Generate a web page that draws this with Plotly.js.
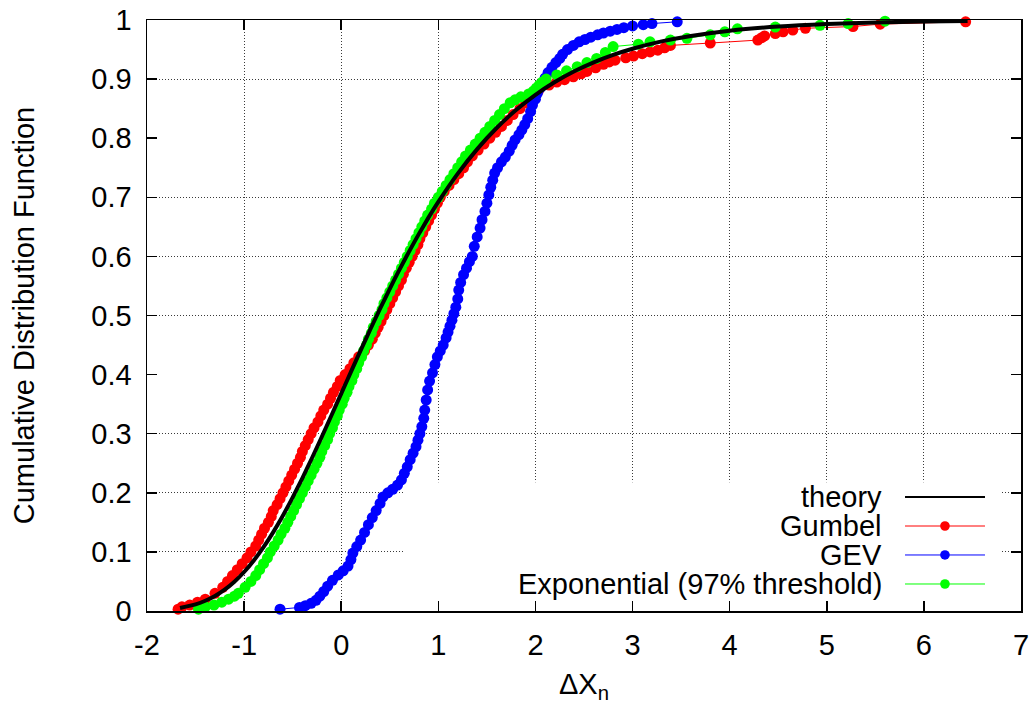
<!DOCTYPE html>
<html>
<head>
<meta charset="utf-8">
<script src="https://cdn.plot.ly/plotly-3.0.1.min.js"></script>
<style>
  html, body { margin: 0; padding: 0; background: #fff; }
  #chart { width: 1035px; height: 704px; }
</style>
</head>
<body>
<div id="chart"></div>
<script>
// ---------------- data ----------------
const seriesNames = ["theory", "Gumbel", "GEV", "Exponential (97% threshold)"];

const theoryX = [-1.66,-1.5,-1.4,-1.3,-1.2,-1.1,-1.0,-0.9,-0.8,-0.7,-0.6,-0.5,-0.4,-0.3,-0.2,-0.1,0,0.1,0.2,0.3,0.4,0.5,0.6,0.7,0.8,0.9,1.0,1.2,1.4,1.6,1.8,2.0,2.2,2.4,2.6,2.8,3.0,3.3,3.6,4.0,4.5,5.0,5.5,6.0,6.45];
const theoryY = [0.0052,0.0113,0.0173,0.0255,0.0361,0.0496,0.0660,0.0855,0.1080,0.1335,0.1617,0.1923,0.2249,0.2593,0.2948,0.3312,0.3679,0.4046,0.4410,0.4767,0.5115,0.5452,0.5777,0.6086,0.6381,0.6660,0.6922,0.7400,0.7815,0.8172,0.8476,0.8734,0.8951,0.9133,0.9284,0.9410,0.9514,0.9638,0.9730,0.9819,0.9890,0.9933,0.9959,0.9975,0.9984];

const gumbelX = [-1.68,-1.64,-1.56,-1.48,-1.40,-1.30,-1.22,-1.17,-1.12,-1.07,-1.02,-0.97,-0.93,-0.88,-0.85,-0.82,-0.79,-0.75,-0.72,-0.70,-0.66,-0.63,-0.60,-0.57,-0.54,-0.51,-0.48,-0.45,-0.42,-0.40,-0.37,-0.34,-0.31,-0.28,-0.24,-0.21,-0.18,-0.14,-0.11,-0.08,-0.04,-0.01,0.04,0.09,0.13,0.18,0.24,0.28,0.32,0.35,0.38,0.41,0.44,0.47,0.50,0.53,0.56,0.59,0.62,0.64,0.67,0.70,0.73,0.76,0.79,0.81,0.84,0.87,0.90,0.93,0.96,0.99,1.02,1.06,1.11,1.16,1.21,1.26,1.30,1.35,1.41,1.47,1.53,1.59,1.65,1.71,1.77,1.84,1.90,1.96,2.03,2.14,2.22,2.30,2.39,2.47,2.53,2.62,2.70,2.76,2.82,2.93,3.01,3.10,3.18,3.26,3.33,3.39,3.80,4.29,4.33,4.36,4.47,4.55,4.65,4.78,5.27,5.55,6.43];
const gumbelY = [0.003,0.007,0.010,0.015,0.020,0.030,0.040,0.050,0.060,0.070,0.080,0.090,0.100,0.110,0.120,0.130,0.140,0.150,0.160,0.170,0.180,0.190,0.200,0.210,0.220,0.230,0.240,0.250,0.260,0.270,0.280,0.290,0.300,0.310,0.320,0.330,0.340,0.350,0.360,0.370,0.380,0.390,0.400,0.410,0.420,0.430,0.440,0.450,0.460,0.470,0.480,0.490,0.500,0.510,0.520,0.530,0.540,0.550,0.560,0.570,0.580,0.590,0.600,0.610,0.620,0.630,0.640,0.650,0.660,0.670,0.680,0.690,0.700,0.710,0.720,0.730,0.740,0.750,0.760,0.770,0.780,0.790,0.800,0.810,0.820,0.830,0.840,0.850,0.860,0.870,0.880,0.890,0.895,0.899,0.904,0.909,0.913,0.919,0.925,0.929,0.932,0.936,0.939,0.943,0.946,0.949,0.953,0.957,0.961,0.966,0.970,0.973,0.977,0.980,0.983,0.986,0.989,0.993,0.997];

const gevX = [-0.63,-0.43,-0.37,-0.31,-0.26,-0.22,-0.18,-0.14,-0.09,-0.03,0.02,0.07,0.10,0.12,0.16,0.20,0.24,0.28,0.32,0.36,0.40,0.43,0.48,0.53,0.58,0.62,0.65,0.68,0.71,0.74,0.77,0.79,0.81,0.83,0.85,0.86,0.875,0.89,0.91,0.94,0.965,0.99,1.02,1.05,1.08,1.10,1.12,1.14,1.16,1.18,1.20,1.21,1.23,1.26,1.29,1.32,1.35,1.37,1.40,1.43,1.45,1.48,1.50,1.52,1.54,1.56,1.58,1.61,1.65,1.69,1.73,1.76,1.79,1.83,1.86,1.89,1.92,1.95,1.97,2.00,2.02,2.05,2.07,2.10,2.13,2.17,2.21,2.25,2.28,2.33,2.39,2.45,2.51,2.57,2.64,2.70,2.77,2.84,2.91,3.00,3.11,3.20,3.46];
const gevY = [0.003,0.006,0.009,0.013,0.018,0.025,0.033,0.042,0.052,0.061,0.068,0.076,0.087,0.098,0.109,0.120,0.133,0.146,0.158,0.170,0.182,0.193,0.200,0.206,0.213,0.222,0.233,0.244,0.256,0.267,0.278,0.289,0.300,0.312,0.326,0.340,0.357,0.374,0.389,0.403,0.417,0.430,0.440,0.450,0.462,0.472,0.482,0.492,0.503,0.514,0.528,0.543,0.556,0.569,0.580,0.591,0.600,0.617,0.633,0.648,0.662,0.676,0.690,0.704,0.717,0.729,0.741,0.750,0.760,0.768,0.778,0.788,0.797,0.806,0.814,0.823,0.833,0.845,0.856,0.866,0.876,0.885,0.893,0.902,0.911,0.920,0.928,0.935,0.942,0.950,0.957,0.963,0.967,0.971,0.975,0.978,0.981,0.984,0.987,0.990,0.992,0.994,0.997];

const expX = [-1.47,-1.40,-1.31,-1.23,-1.16,-1.10,-1.06,-0.99,-0.93,-0.88,-0.84,-0.80,-0.76,-0.73,-0.69,-0.65,-0.62,-0.58,-0.55,-0.52,-0.49,-0.46,-0.43,-0.40,-0.37,-0.34,-0.31,-0.28,-0.25,-0.22,-0.20,-0.17,-0.14,-0.12,-0.09,-0.07,-0.04,-0.02,0.01,0.03,0.06,0.08,0.11,0.13,0.16,0.18,0.21,0.23,0.26,0.28,0.31,0.33,0.36,0.39,0.42,0.44,0.47,0.50,0.53,0.56,0.59,0.62,0.65,0.68,0.71,0.74,0.77,0.80,0.83,0.86,0.89,0.93,0.96,1.00,1.04,1.08,1.12,1.16,1.20,1.24,1.28,1.33,1.38,1.43,1.48,1.53,1.58,1.63,1.68,1.74,1.79,1.85,1.93,1.98,2.01,2.04,2.07,2.11,2.22,2.32,2.43,2.53,2.63,2.72,2.80,3.06,3.18,3.39,3.56,3.80,3.95,4.08,4.47,4.93,5.22,5.60];
const expY = [0.003,0.007,0.010,0.015,0.020,0.025,0.030,0.040,0.050,0.060,0.070,0.080,0.090,0.100,0.110,0.120,0.130,0.140,0.150,0.160,0.170,0.180,0.190,0.200,0.210,0.220,0.230,0.240,0.250,0.260,0.270,0.280,0.290,0.300,0.310,0.320,0.330,0.340,0.350,0.360,0.370,0.380,0.390,0.400,0.410,0.420,0.430,0.440,0.450,0.460,0.470,0.480,0.490,0.500,0.510,0.520,0.530,0.540,0.550,0.560,0.570,0.580,0.590,0.600,0.610,0.620,0.630,0.640,0.650,0.660,0.670,0.680,0.690,0.700,0.710,0.720,0.730,0.740,0.750,0.760,0.770,0.780,0.790,0.800,0.810,0.820,0.830,0.840,0.850,0.860,0.865,0.870,0.875,0.880,0.885,0.890,0.895,0.900,0.907,0.914,0.921,0.928,0.935,0.945,0.955,0.959,0.963,0.966,0.969,0.975,0.980,0.985,0.988,0.991,0.994,0.998];

const xTickVals = [-2,-1,0,1,2,3,4,5,6,7];
const xTickText = ["-2","-1","0","1","2","3","4","5","6","7"];
const yTickVals = [0,0.1,0.2,0.3,0.4,0.5,0.6,0.7,0.8,0.9,1];
const yTickText = ["0","0.1","0.2","0.3","0.4","0.5","0.6","0.7","0.8","0.9","1"];
const yGridVals = [0.1,0.2,0.3,0.5,0.6,0.7,0.9];
const xAxisTitle = "ΔX<sub>n</sub>";
const yAxisTitle = "Cumulative Distribution Function";

// ---------------- styling ----------------
const FONT = "Liberation Sans, Arial, Helvetica, sans-serif";
const FS = 29;
const seriesColors = ["#000000", "#ff0000", "#0000ff", "#00ff00"];

function empirical(x, y, color, name) {
  return {
    type: "scatter", mode: "lines+markers", x: x, y: y, name: name,
    line: {color: color, width: 1},
    marker: {color: color, size: 11, line: {width: 0}},
    cliponaxis: false, showlegend: false, xaxis: "x", yaxis: "y"
  };
}

const traces = [
  empirical(gumbelX, gumbelY, seriesColors[1], seriesNames[1]),
  empirical(gevX, gevY, seriesColors[2], seriesNames[2]),
  empirical(expX, expY, seriesColors[3], seriesNames[3]),
  {
    type: "scatter", mode: "lines", x: theoryX, y: theoryY, name: seriesNames[0],
    line: {color: seriesColors[0], width: 4, shape: "spline", smoothing: 0.6},
    cliponaxis: false, showlegend: false, xaxis: "x", yaxis: "y2"
  }
];

// custom gnuplot-style key: text right-aligned, sample on the right
const keyRowsY = [0.1929, 0.1438, 0.0948, 0.0457];
const keyTextX = 0.8432, keyLineX0 = 0.8673, keyLineX1 = 0.9588, keyDotX = 0.9130;
const annotations = [];
const shapes = [
  {type: "rect", xref: "x", yref: "y", x0: 0.64, x1: 6.79, y0: 0.002, y1: 0.218,
   fillcolor: "#ffffff", line: {width: 0}, layer: "between"}
];
seriesNames.forEach((nm, i) => {
  annotations.push({
    xref: "paper", yref: "paper", x: keyTextX, y: keyRowsY[i],
    xanchor: "right", yanchor: "middle", showarrow: false, text: nm,
    font: {family: FONT, size: FS, color: "#000"}
  });
  shapes.push({
    type: "line", xref: "paper", yref: "paper", x0: keyLineX0, x1: keyLineX1,
    y0: keyRowsY[i], y1: keyRowsY[i],
    line: {color: seriesColors[i], width: i === 0 ? 2 : 1}, layer: "above"
  });
  if (i > 0) {
    const rx = 4.8 / 874, ry = 4.8 / 591;
    shapes.push({
      type: "circle", xref: "paper", yref: "paper",
      x0: keyDotX - rx, x1: keyDotX + rx, y0: keyRowsY[i] - ry, y1: keyRowsY[i] + ry,
      fillcolor: seriesColors[i], line: {width: 0}, layer: "above"
    });
  }
});

const axisCommon = {
  ticks: "inside", ticklen: 10, tickwidth: 1.5, tickcolor: "#000",
  showline: true, linecolor: "#000", linewidth: 1.5, mirror: "ticks",
  zeroline: false, tickfont: {family: FONT, size: FS, color: "#000"}
};

const layout = {
  width: 1035, height: 704,
  margin: {l: 147, r: 14, t: 20, b: 93, pad: 0},
  paper_bgcolor: "#ffffff", plot_bgcolor: "#ffffff",
  font: {family: FONT, size: FS, color: "#000"},
  showlegend: false,
  xaxis: Object.assign({}, axisCommon, {
    range: [-2, 7], tickmode: "array", tickvals: xTickVals, ticktext: xTickText,
    showgrid: true, gridcolor: "#3a3a3a", gridwidth: 1, griddash: "1px,2px",
    ticklabelstandoff: 8,
    title: {text: xAxisTitle, font: {family: FONT, size: FS, color: "#000"}, standoff: 14}
  }),
  yaxis: Object.assign({}, axisCommon, {
    range: [0, 1], tickmode: "array", tickvals: yTickVals, ticktext: yTickText,
    showgrid: false, ticklabelstandoff: 8,
    title: {text: yAxisTitle, font: {family: FONT, size: FS, color: "#000"}, standoff: 48}
  }),
  yaxis2: {
    overlaying: "y", range: [0, 1], tickmode: "array", tickvals: yGridVals,
    showticklabels: false, ticks: "", showline: false, zeroline: false,
    showgrid: true, gridcolor: "#3a3a3a", gridwidth: 1, griddash: "1px,2px"
  },
  shapes: shapes,
  annotations: annotations
};

Plotly.newPlot("chart", traces, layout, {displayModeBar: false, staticPlot: true});
</script>
</body>
</html>
